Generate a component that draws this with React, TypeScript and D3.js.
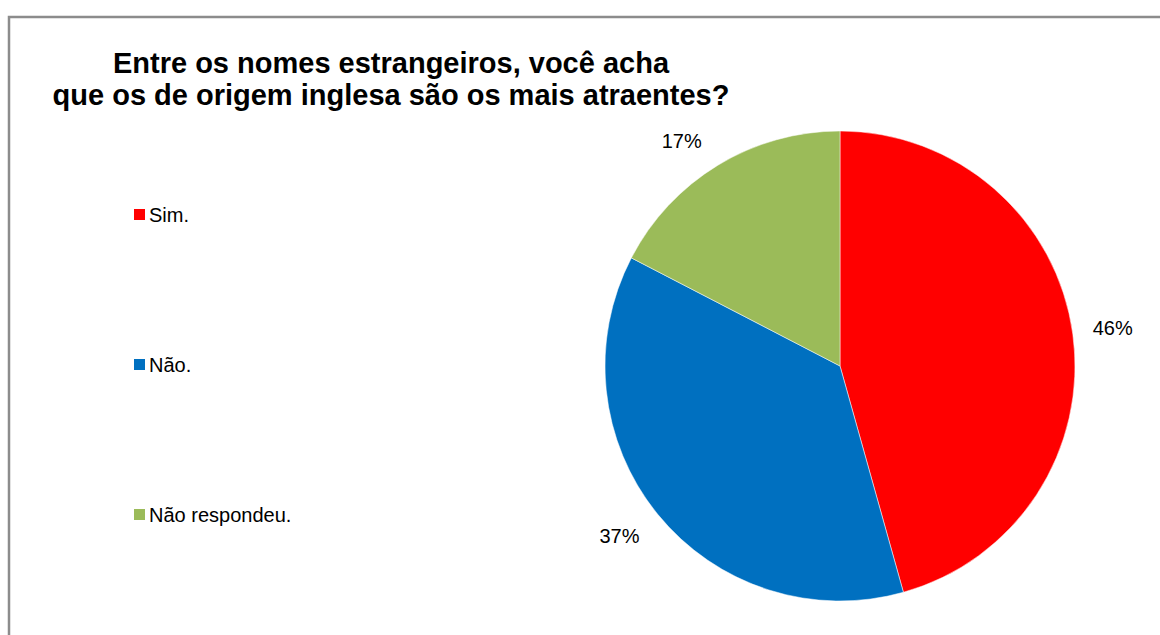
import React from "react";
import * as d3 from "d3";

const titleLines = [
  "Entre os nomes estrangeiros, você acha",
  "que os de origem inglesa são os mais atraentes?",
];
const categories = ["Sim.", "Não.", "Não respondeu."];
const counts = [21, 17, 8];
const colors = ["#FF0000", "#0070C0", "#9BBB59"];

const W = 1160;
const H = 635;
const FONT = "'Liberation Sans', Arial, Helvetica, sans-serif";

export default function App() {
  const cx = 840;
  const cy = 366;
  const r = 235;
  const total = d3.sum(counts);
  const pie = d3
    .pie<number>()
    .sort(null)
    .value((d) => d)(counts);
  const arc = d3.arc<d3.PieArcDatum<number>>().innerRadius(0).outerRadius(r);
  const anchorR = r + 8;
  const legendY = d3
    .scalePoint<string>()
    .domain(categories)
    .range([215, 515]);

  return (
    <svg
      width={W}
      height={H}
      style={{ position: "absolute", left: 0, top: 0, background: "#fff" }}
    >
      <rect x={0} y={0} width={W} height={H} fill="#fff" />
      <rect
        x={9}
        y={17}
        width={1300}
        height={800}
        fill="#fff"
        stroke="#8c8c8c"
        strokeWidth={2.5}
      />
      <g fontFamily={FONT} fontWeight="bold" fontSize={29} fill="#000">
        {titleLines.map((t, i) => (
          <text key={i} x={391} y={73 + i * 32} textAnchor="middle">
            {t}
          </text>
        ))}
      </g>
      <g transform={`translate(${cx},${cy})`}>
        {pie.map((d, i) => (
          <path
            key={i}
            d={arc(d) || ""}
            fill={colors[i]}
            stroke="#fff"
            strokeWidth={0.5}
          />
        ))}
        {pie.map((d, i) => {
          const mid = (d.startAngle + d.endAngle) / 2;
          const s = Math.sin(mid);
          const c = -Math.cos(mid);
          const x = s * anchorR + Math.sign(s) * 32;
          const y = c * anchorR + Math.sign(c) * Math.min(17, Math.abs(c) * 37);
          return (
            <text
              key={"l" + i}
              x={x}
              y={y}
              dy="0.35em"
              textAnchor="middle"
              fontFamily={FONT}
              fontSize={20}
              fill="#000"
            >
              {Math.round((counts[i] / total) * 100) + "%"}
            </text>
          );
        })}
      </g>
      <g fontFamily={FONT} fontSize={20} fill="#000">
        {categories.map((c, i) => {
          const y = legendY(c) as number;
          return (
            <g key={c}>
              <rect x={134} y={y - 6} width={11} height={11} fill={colors[i]} />
              <text x={149} y={y} dy="0.35em">
                {c}
              </text>
            </g>
          );
        })}
      </g>
    </svg>
  );
}
